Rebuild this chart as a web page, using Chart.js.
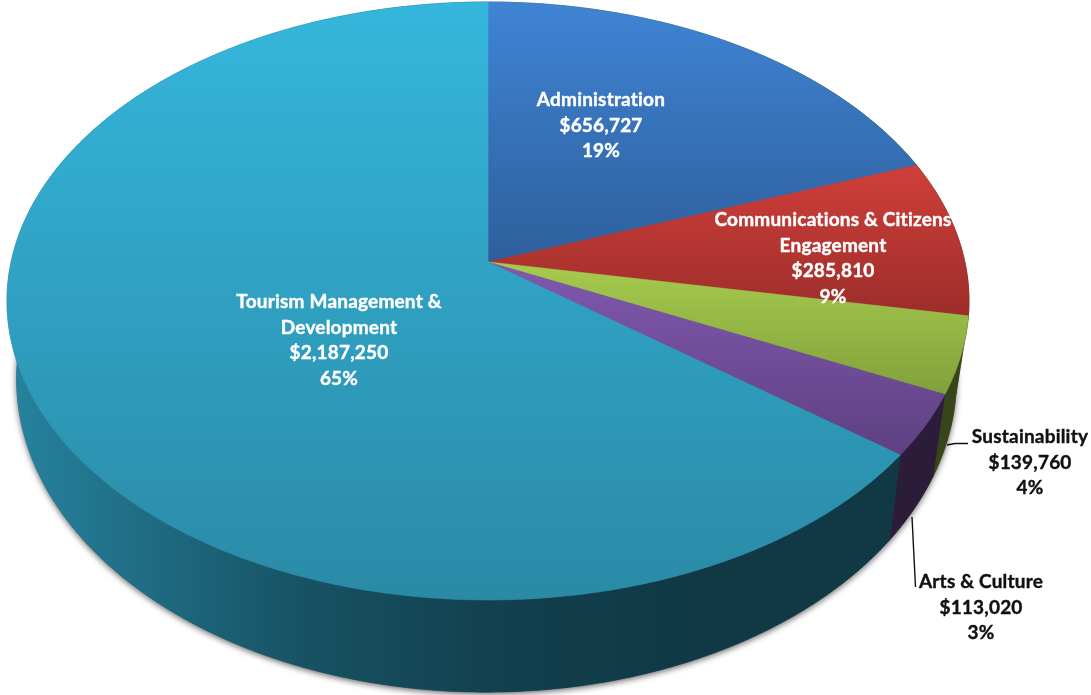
<!DOCTYPE html>
<html>
<head>
<meta charset="utf-8">
<title>Budget by program</title>
<script src="https://cdn.jsdelivr.net/npm/chart.js@4/dist/chart.umd.min.js"></script>
<style>
    html, body { margin: 0; background: #fff; }
    canvas { display: block; }
</style>
</head>
<body>
<canvas id="budget" width="1091" height="695"></canvas>
<script>
const categories = ["Administration", "Communications & Citizens Engagement", "Sustainability", "Arts & Culture", "Tourism Management & Development"];
const amounts = [656727, 285810, 139760, 113020, 2187250];
const percentLabels = ["19%", "9%", "4%", "3%", "65%"];
const labelNames = [
    ["Administration"],
    ["Communications & Citizens", "Engagement"],
    ["Sustainability"],
    ["Arts & Culture"],
    ["Tourism Management &", "Development"]
];

// top and bottom colour of each slice's face
const faceTop = ["#3f84d4", "#d03f3a", "#a6cc4e", "#8059ae", "#35b6dc"];
const faceBottom = ["#2e5f9c", "#9c2d2a", "#82a03b", "#5f4082", "#2a8aa6"];
// the side walls of the two slices at the back only show as a sliver, which reads as green
const wallBase = ["#9bc048", "#9bc048", "#9bc048", "#7a53a3", "#2e9ec0"];
const wallLight = [[0, 0.82], [0.02, 0.82], [0.14, 0.68], [0.28, 0.52], [0.46, 0.41], [0.64, 0.36], [1, 0.36]];

// x centre and first baseline of each label block
const labelX = [601, 833, 1030, 981, 339];
const labelY = [100, 220, 437, 582, 302];
const labelColor = ["#fff", "#fff", "#111", "#111", "#fff"];
const lineGap = 25.6;

// perspective projection of the pie's top rim and bottom rim
const perspective = 0.1304;
const topRim = { x: 488, y: 262, bx: 476.9, by: 293.9 };
const bottomRim = { x: 486.5, y: 338, bx: 466, by: 308 };

function project(rim, angle) {
    let u = Math.cos(angle), v = Math.sin(angle);
    let w = 1 - perspective * v;
    return [rim.x + rim.bx * u / w, rim.y + rim.by * v / w];
}

function sampleArc(rim, from, to) {
    let pts = [];
    let steps = Math.max(2, Math.ceil(Math.abs(to - from) / 0.008));
    for (let i = 0; i <= steps; i++) {
        pts.push(project(rim, from + (to - from) * i / steps));
    }
    return pts;
}

function trace(ctx, pts) {
    ctx.beginPath();
    pts.forEach((p, i) => i ? ctx.lineTo(p[0], p[1]) : ctx.moveTo(p[0], p[1]));
    ctx.closePath();
}

function shade(hex, f) {
    let n = parseInt(hex.slice(1), 16);
    return `rgb(${(n >> 16) * f | 0},${((n >> 8) & 255) * f | 0},${(n & 255) * f | 0})`;
}

function drawWalls(ctx, arcs, width) {
    // soft drop shadow under the whole disc
    ctx.save();
    ctx.shadowColor = "rgba(0,0,0,0.6)";
    ctx.shadowBlur = 6;
    ctx.shadowOffsetY = 2;
    ctx.fillStyle = "#555";
    trace(ctx, sampleArc(bottomRim, 0, Math.PI * 2));
    ctx.fill();
    ctx.restore();

    arcs.forEach((arc, i) => {
        let grad = ctx.createLinearGradient(0, 0, width, 0);
        wallLight.forEach(s => grad.addColorStop(s[0], shade(wallBase[i], s[1])));
        let pts = sampleArc(topRim, arc.startAngle, arc.endAngle)
            .concat(sampleArc(bottomRim, arc.endAngle, arc.startAngle));
        trace(ctx, pts);
        ctx.fillStyle = grad;
        ctx.strokeStyle = grad;
        ctx.lineWidth = 0.6;
        ctx.fill();
        ctx.stroke();
    });
}

function drawFaces(ctx, arcs) {
    arcs.forEach((arc, i) => {
        let pts = [[topRim.x, topRim.y]].concat(sampleArc(topRim, arc.startAngle, arc.endAngle));
        let ys = pts.map(p => p[1]);
        let grad = ctx.createLinearGradient(0, Math.min(...ys), 0, Math.max(...ys));
        grad.addColorStop(0, faceTop[i]);
        grad.addColorStop(1, faceBottom[i]);
        trace(ctx, pts);
        ctx.fillStyle = grad;
        ctx.strokeStyle = grad;
        ctx.lineWidth = 0.6;
        ctx.fill();
        ctx.stroke();
    });
}

function drawLeaders(ctx) {
    ctx.strokeStyle = "#111";
    ctx.lineWidth = 1.4;
    ctx.beginPath();
    ctx.moveTo(947, 445);
    ctx.lineTo(955, 443.5);
    ctx.lineTo(968, 443.5);
    ctx.moveTo(912, 517);
    ctx.lineTo(915.5, 587);
    ctx.stroke();
}

function drawLabels(ctx) {
    ctx.font = "bold 19px Lato, 'Open Sans', sans-serif";
    ctx.letterSpacing = "0.2px"; // also keeps Lato's "ti" ligature out
    ctx.textAlign = "center";
    ctx.textBaseline = "middle";
    ctx.lineJoin = "round";
    ctx.lineWidth = 0.4;
    categories.forEach((name, i) => {
        let lines = labelNames[i].concat("$" + amounts[i].toLocaleString("en-US"), percentLabels[i]);
        ctx.fillStyle = labelColor[i];
        ctx.strokeStyle = labelColor[i];
        lines.forEach((text, n) => {
            ctx.fillText(text, labelX[i], labelY[i] + n * lineGap);
            ctx.strokeText(text, labelX[i], labelY[i] + n * lineGap);
        });
    });
}

// Chart.js lays out the slice angles, the disc itself is painted in perspective from them
const pie3d = {
    id: "pie3d",
    beforeDatasetDraw(chart) {
        let arcs = chart.getDatasetMeta(0).data;
        let ctx = chart.ctx;
        ctx.save();
        drawWalls(ctx, arcs, chart.width);
        drawFaces(ctx, arcs);
        drawLeaders(ctx);
        drawLabels(ctx);
        ctx.restore();
        return false;
    }
};

new Chart(document.getElementById("budget"), {
    type: "pie",
    data: {
        labels: categories,
        datasets: [{ data: amounts, backgroundColor: faceTop, borderWidth: 0 }]
    },
    options: {
        responsive: false,
        animation: false,
        plugins: {
            legend: { display: false },
            tooltip: { enabled: false }
        }
    },
    plugins: [pie3d]
});
</script>
</body>
</html>
